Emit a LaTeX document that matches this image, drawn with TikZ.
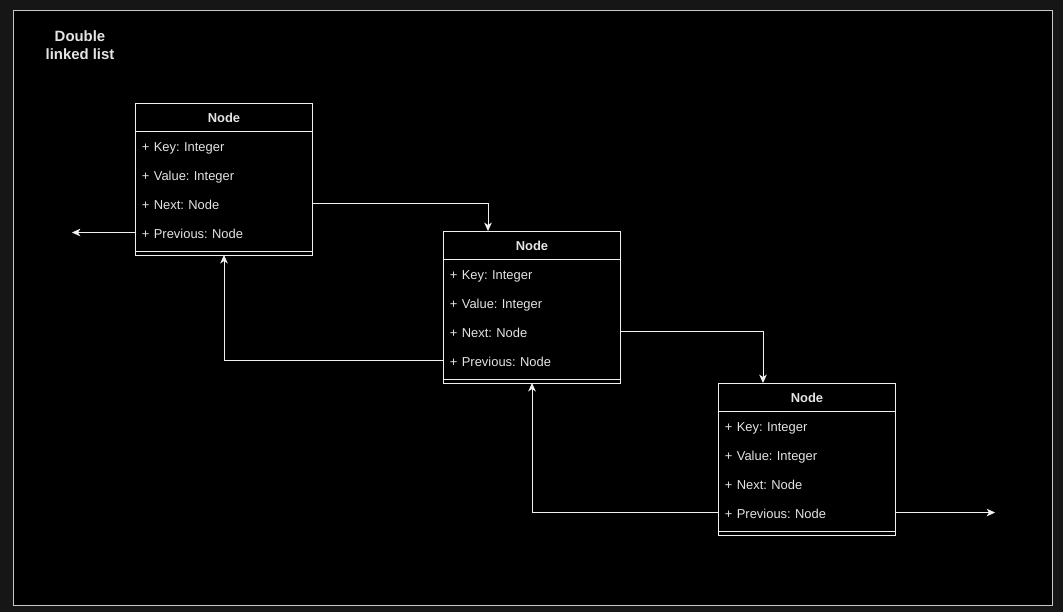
\documentclass[tikz,border=0pt]{standalone}
\usepackage{fontspec}
\setmainfont{Liberation Sans}
\usepackage{tikz}
\usetikzlibrary{shapes,arrows}
\usetikzlibrary{calc}
\usetikzlibrary{arrows,arrows.meta}
\usetikzlibrary{positioning}
\definecolor{bgouter}{RGB}{22,22,22}
\definecolor{linec}{RGB}{240,240,240}
\definecolor{framec}{RGB}{200,200,200}
\definecolor{textc}{RGB}{228,228,228}
\frenchspacing
\begin{document}
\begin{tikzpicture}[%
		x=0.025cm, y=-0.025cm,
		>={Stealth[length=2.1mm, width=1.9mm, inset=0.6mm]},
		line/.style={line width=0.7pt, linec},
		head/.style={rectangle, draw=linec, line width=0.7pt, text=textc, minimum width=4.4cm, minimum height=0.7cm, inner sep=0pt, outer sep=0pt, text height=0.28cm, text depth=0.02cm, font=\fontsize{9.2pt}{11pt}\selectfont\bfseries},
		field/.style={rectangle, text=textc, text width=4.1cm, align=left, inner xsep=0.15cm, inner ysep=0pt, outer sep=0pt, minimum height=0.725cm, text height=0.30cm, text depth=0.02cm, font=\fontsize{9.2pt}{11pt}\selectfont},
		foot/.style={rectangle, minimum width=4.4cm, minimum height=0.2cm, inner sep=0pt, outer sep=0pt}
		]
		% 1063 x 612 px
		\fill[bgouter] (0,0) rectangle (1063,612);
		\useasboundingbox (0,0) rectangle (1063,612);
		\draw[fill=black, draw=framec, line width=0.7pt] (13,10) rectangle (1052,605);
		%%%%%%%%%%%%%%%
		%    NODES    %
		%%%%%%%%%%%%%%%
		\node[text=textc, align=center, font=\fontsize{10.6pt}{12.8pt}\selectfont\bfseries] (title) at (80,45) {Double\\linked list};
		
		% first node
		\node[head] (n1) at (224,117) {Node};
		\node[field, below=0pt of n1] (n1key) {+ Key: Integer};
		\node[field, below=0pt of n1key] (n1val) {+ Value: Integer};
		\node[field, below=0pt of n1val] (n1next) {+ Next: Node};
		\node[field, below=0pt of n1next] (n1prev) {+ Previous: Node};
		\node[foot, below=0pt of n1prev] (n1foot) {};
		\draw[line] (n1.north west) rectangle (n1foot.south east);
		\draw[line] (n1foot.west) -- (n1foot.east);
		
		% second node
		\node[head] (n2) at (532,245) {Node};
		\node[field, below=0pt of n2] (n2key) {+ Key: Integer};
		\node[field, below=0pt of n2key] (n2val) {+ Value: Integer};
		\node[field, below=0pt of n2val] (n2next) {+ Next: Node};
		\node[field, below=0pt of n2next] (n2prev) {+ Previous: Node};
		\node[foot, below=0pt of n2prev] (n2foot) {};
		\draw[line] (n2.north west) rectangle (n2foot.south east);
		\draw[line] (n2foot.west) -- (n2foot.east);
		
		% third node
		\node[head] (n3) at (807,397) {Node};
		\node[field, below=0pt of n3] (n3key) {+ Key: Integer};
		\node[field, below=0pt of n3key] (n3val) {+ Value: Integer};
		\node[field, below=0pt of n3val] (n3next) {+ Next: Node};
		\node[field, below=0pt of n3next] (n3prev) {+ Previous: Node};
		\node[foot, below=0pt of n3prev] (n3foot) {};
		\draw[line] (n3.north west) rectangle (n3foot.south east);
		\draw[line] (n3foot.west) -- (n3foot.east);
		
		% loose ends
		\coordinate[left=1.6cm of n1prev.west] (lend);
		\coordinate[right=2.5cm of n3prev.east] (rend);
		
		%%%%%%%%%%%%%%%
		% CONNECTIONS %
		%%%%%%%%%%%%%%%
		
		\draw[line, ->] (n1prev.west) -- (lend);
		\draw[line, ->] (n1next.east) -| ($(n2.north west)!0.25!(n2.north east)$);
		\draw[line, ->] (n2prev.west) -| (n1foot.south);
		\draw[line, ->] (n2next.east) -| ($(n3.north west)!0.25!(n3.north east)$);
		\draw[line, ->] (n3prev.west) -| (n2foot.south);
		\draw[line, ->] (n3prev.east) -- (rend);
		
	\end{tikzpicture}
\end{document}
